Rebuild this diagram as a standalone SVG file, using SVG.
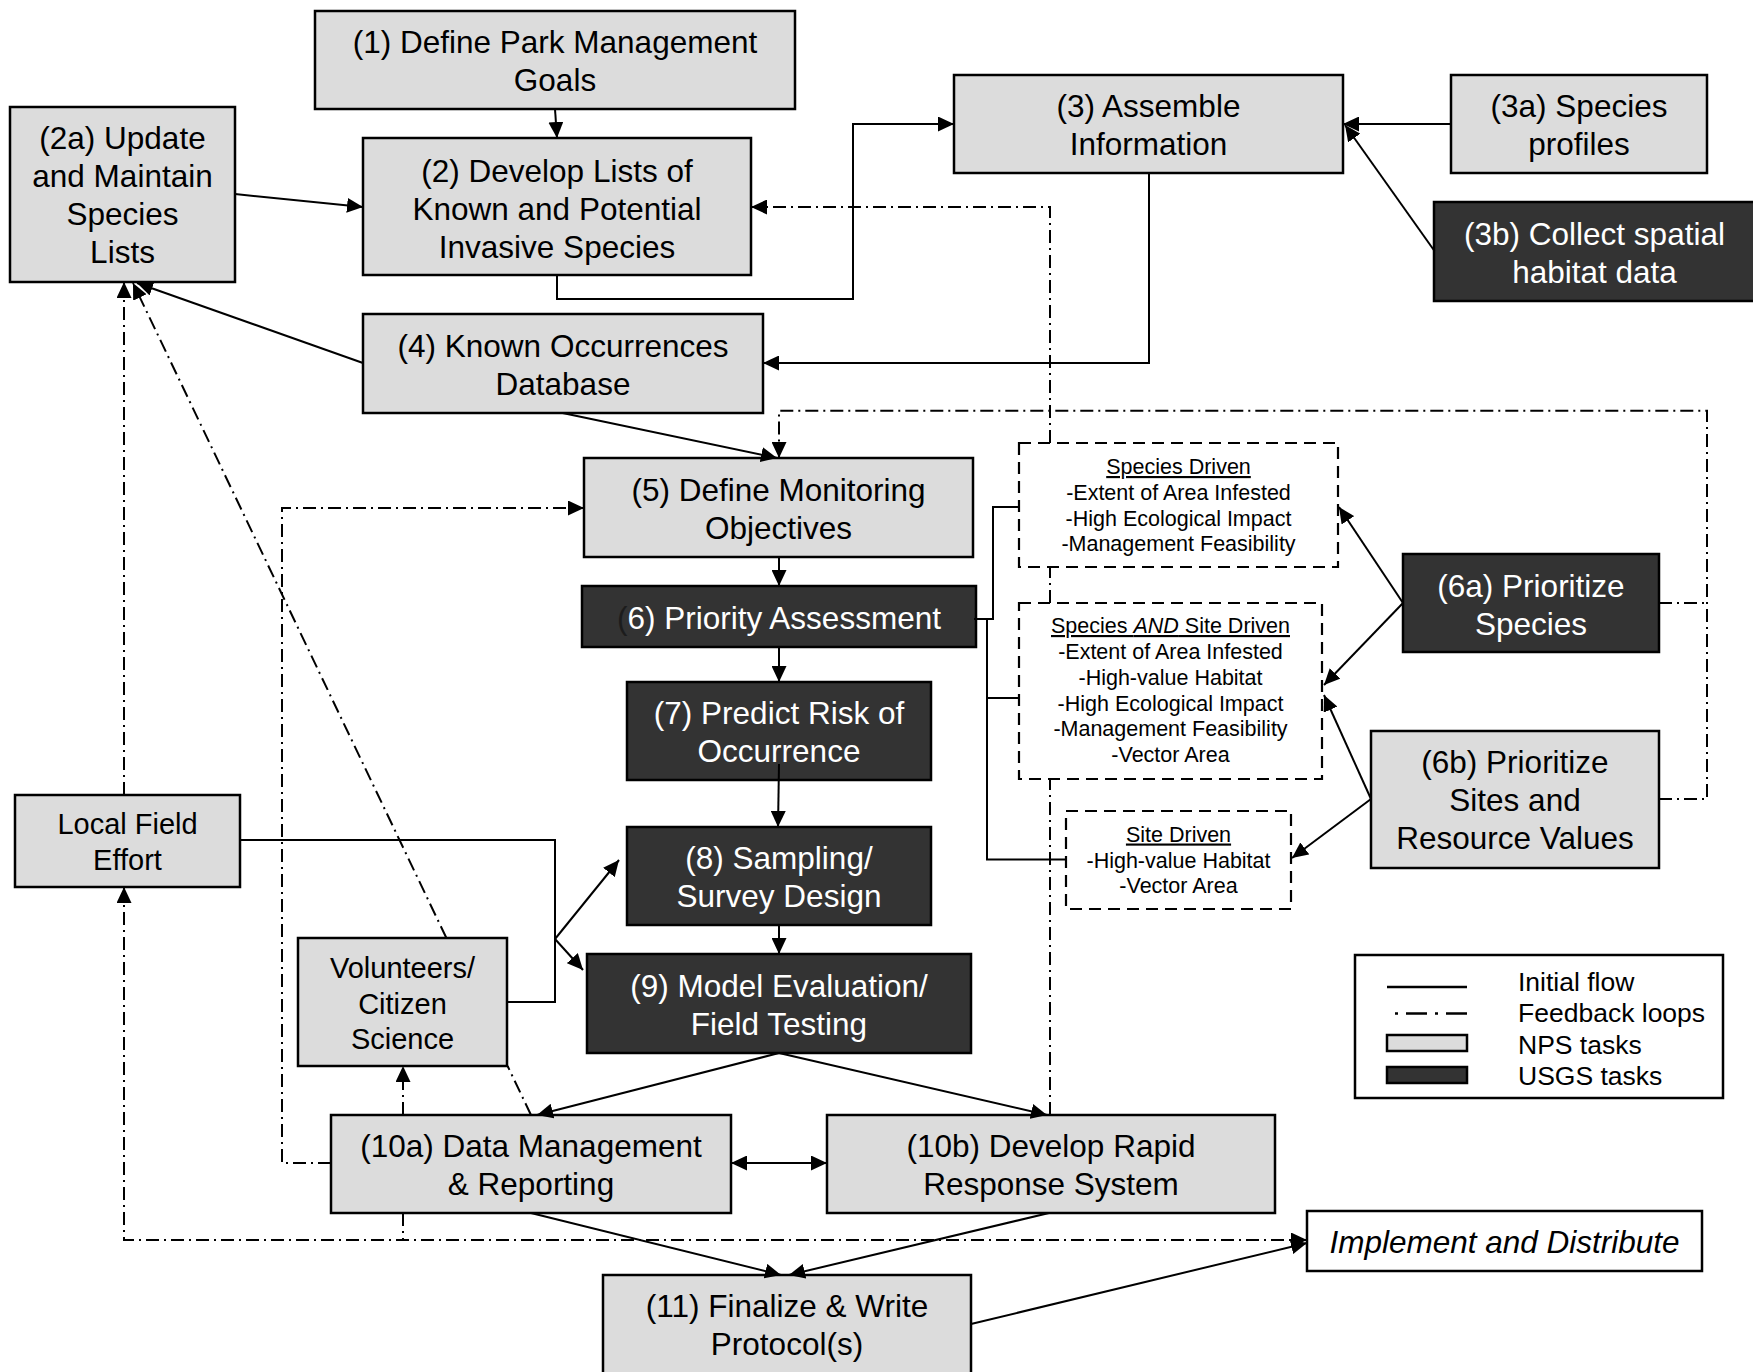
<svg xmlns="http://www.w3.org/2000/svg" width="1753" height="1372" viewBox="0 0 1753 1372">
<style>
text{font-family:"Liberation Sans",Arial,sans-serif;text-anchor:middle}
.n rect{stroke:#000;stroke-width:2.5}
.l rect{fill:#dcdcdc}
.d rect{fill:#333333}
.l text{fill:#000;font-size:31.5px}
.d text{fill:#fff;font-size:31.5px}
.sm text{font-size:29px}
.db rect{fill:#fff;stroke:#000;stroke-width:2.2;stroke-dasharray:12,7}
.db text{font-size:21.5px;fill:#000}
.u{text-decoration:underline}
.c path{fill:none;stroke:#000;stroke-width:2}
.c .f{stroke-dasharray:13,5,2,5}
.lg text{font-size:26.5px;text-anchor:start}
</style>
<defs>
<marker id="a" markerUnits="userSpaceOnUse" markerWidth="16" markerHeight="15" viewBox="0 0 16 15" refX="16" refY="7.5" orient="auto-start-reverse">
<path d="M0,0 L16,7.5 L0,15 z" fill="#000"/>
</marker>
</defs>
<rect width="1753" height="1372" fill="#fff"/>

<g id="n1" class="n l"><rect x="315" y="11" width="480" height="98"/><text x="555" y="53">(1) Define Park Management</text><text x="555" y="91">Goals</text></g>
<g id="n2a" class="n l"><rect x="10" y="107" width="225" height="175"/><text x="122.5" y="149">(2a) Update</text><text x="122.5" y="187">and Maintain</text><text x="122.5" y="225">Species</text><text x="122.5" y="263">Lists</text></g>
<g id="n2" class="n l"><rect x="363" y="138" width="388" height="137"/><text x="557" y="181.5">(2) Develop Lists of</text><text x="557" y="219.5">Known and Potential</text><text x="557" y="257.5">Invasive Species</text></g>
<g id="n3" class="n l"><rect x="954" y="75" width="389" height="98"/><text x="1148.5" y="117">(3) Assemble</text><text x="1148.5" y="155">Information</text></g>
<g id="n3a" class="n l"><rect x="1451" y="75" width="256" height="98"/><text x="1579" y="117">(3a) Species</text><text x="1579" y="155">profiles</text></g>
<g id="n3b" class="n d"><rect x="1434" y="202" width="321" height="99"/><text x="1594.5" y="244.5">(3b) Collect spatial</text><text x="1594.5" y="282.5">habitat data</text></g>
<g id="n4" class="n l"><rect x="363" y="314" width="400" height="99"/><text x="563" y="356.5">(4) Known Occurrences</text><text x="563" y="394.5">Database</text></g>
<g id="n5" class="n l"><rect x="584" y="458" width="389" height="99"/><text x="778.5" y="501">(5) Define Monitoring</text><text x="778.5" y="539">Objectives</text></g>
<g id="n6" class="n d"><rect x="582" y="586" width="394" height="61"/><text x="779" y="628.5"><tspan fill="#1c1c1c">(</tspan>6) Priority Assessment</text></g>
<g id="n7" class="n d"><rect x="627" y="682" width="304" height="98"/><text x="779" y="724">(7) Predict Risk of</text><text x="779" y="762">Occurrence</text></g>
<g id="n8" class="n d"><rect x="627" y="827" width="304" height="98"/><text x="779" y="869">(8) Sampling/</text><text x="779" y="907">Survey Design</text></g>
<g id="n9" class="n d"><rect x="587" y="954" width="384" height="99"/><text x="779" y="996.5">(9) Model Evaluation/</text><text x="779" y="1034.5">Field Testing</text></g>
<g id="n10a" class="n l"><rect x="331" y="1115" width="400" height="98"/><text x="531" y="1157">(10a) Data Management</text><text x="531" y="1195">&amp; Reporting</text></g>
<g id="n10b" class="n l"><rect x="827" y="1115" width="448" height="98"/><text x="1051" y="1157">(10b) Develop Rapid</text><text x="1051" y="1195">Response System</text></g>
<g id="n11" class="n l"><rect x="603" y="1275" width="368" height="110"/><text x="787" y="1317">(11) Finalize &amp; Write</text><text x="787" y="1355">Protocol(s)</text></g>
<g id="n6a" class="n d"><rect x="1403" y="554" width="256" height="98"/><text x="1531" y="597">(6a) Prioritize</text><text x="1531" y="635">Species</text></g>
<g id="n6b" class="n l"><rect x="1371" y="731" width="288" height="137"/><text x="1515" y="773">(6b) Prioritize</text><text x="1515" y="811">Sites and</text><text x="1515" y="849">Resource Values</text></g>
<g id="nLFE" class="n l sm"><rect x="15" y="795" width="225" height="92"/><text x="127.5" y="834">Local Field</text><text x="127.5" y="870">Effort</text></g>
<g id="nVol" class="n l sm"><rect x="298" y="938" width="209" height="128"/><text x="402.5" y="977.5">Volunteers/</text><text x="402.5" y="1013.5">Citizen</text><text x="402.5" y="1049">Science</text></g>
<g id="nImpl" class="n"><rect x="1307" y="1211" width="395" height="60" fill="#fff"/><text x="1504.5" y="1253" font-size="31.5" font-style="italic">Implement and Distribute</text></g>

<g id="nSpecies" class="db"><rect x="1019" y="443" width="319" height="124"/><text x="1178.5" y="474" class="u">Species Driven</text><text x="1178.5" y="500">-Extent of Area Infested</text><text x="1178.5" y="525.5">-High Ecological Impact</text><text x="1178.5" y="551">-Management Feasibility</text></g>
<g id="nBoth" class="db"><rect x="1019" y="603" width="303" height="176"/><text x="1170.5" y="633" class="u">Species <tspan font-style="italic">AND</tspan> Site Driven</text><text x="1170.5" y="659">-Extent of Area Infested</text><text x="1170.5" y="684.5">-High-value Habitat</text><text x="1170.5" y="710.5">-High Ecological Impact</text><text x="1170.5" y="736">-Management Feasibility</text><text x="1170.5" y="762">-Vector Area</text></g>
<g id="nSite" class="db"><rect x="1066" y="811" width="225" height="98"/><text x="1178.5" y="841.5" class="u">Site Driven</text><text x="1178.5" y="867.5">-High-value Habitat</text><text x="1178.5" y="893">-Vector Area</text></g>

<g id="legend" class="lg">
<rect x="1355" y="955" width="368" height="143" fill="#fff" stroke="#000" stroke-width="2.5"/>
<path d="M1387,987 H1467" stroke="#000" stroke-width="2.5"/>
<path d="M1395,1013.5 H1398 M1406,1013.5 H1427 M1435,1013.5 H1438 M1446,1013.5 H1467" stroke="#000" stroke-width="2.5"/>
<rect x="1387" y="1035" width="80" height="16" fill="#dcdcdc" stroke="#000" stroke-width="2.5"/>
<rect x="1387" y="1067" width="80" height="16" fill="#333333" stroke="#000" stroke-width="2.5"/>
<text x="1518" y="990.5">Initial flow</text>
<text x="1518" y="1021.5">Feedback loops</text>
<text x="1518" y="1053.5">NPS tasks</text>
<text x="1518" y="1085">USGS tasks</text>
</g>

<g id="connectors" class="c">
<path d="M555,109 L557,138" marker-end="url(#a)"/>
<path d="M235,194 L363,207" marker-end="url(#a)"/>
<path d="M557,275 V299 H853 V124 H954" marker-end="url(#a)"/>
<path d="M1451,124 H1343" marker-end="url(#a)"/>
<path d="M1434.5,251 L1345,125" marker-end="url(#a)"/>
<path d="M1149,173 V363 H763" marker-end="url(#a)"/>
<path d="M363,363 L137,283" marker-end="url(#a)"/>
<path d="M562.6,413 L777,458" marker-end="url(#a)"/>
<path d="M779,557 V586" marker-end="url(#a)"/>
<path d="M779,647 V682" marker-end="url(#a)"/>
<path d="M779,764 L778,827" marker-end="url(#a)"/>
<path d="M779,925 V954" marker-end="url(#a)"/>
<path d="M240,840 H555 V1002 H507"/>
<path d="M555,939 L619,860" marker-end="url(#a)"/>
<path d="M555,939 L583,970" marker-end="url(#a)"/>
<path d="M974,619 H993 V507 H1019"/>
<path d="M987,619 V859.5 H1066"/>
<path d="M987,698 H1019"/>
<path d="M1403,603 L1339,507" marker-end="url(#a)"/>
<path d="M1403,603 L1324,685" marker-end="url(#a)"/>
<path d="M1371,799 L1324,695" marker-end="url(#a)"/>
<path d="M1371,799 L1292,858" marker-end="url(#a)"/>
<path d="M779,1053 L537,1115" marker-end="url(#a)"/>
<path d="M779,1053 L1047,1115" marker-end="url(#a)"/>
<path d="M731,1163 H827" marker-start="url(#a)" marker-end="url(#a)"/>
<path d="M531,1213 L781,1275" marker-end="url(#a)"/>
<path d="M1049,1213 L789,1275" marker-end="url(#a)"/>
<path d="M971,1324 L1307,1243" marker-end="url(#a)"/>

<path class="f" d="M1050,1115 V779"/>
<path class="f" d="M1050,603 V567"/>
<path class="f" d="M1050,443 V207 H751" marker-end="url(#a)"/>
<path class="f" d="M1659,603 H1707"/>
<path class="f" d="M1659,799 H1707 V410.7 H779 V458" marker-end="url(#a)"/>
<path class="f" d="M331,1163 H282 V508 H584" marker-end="url(#a)"/>
<path class="f" d="M124,795 V282" marker-end="url(#a)"/>
<path class="f" d="M531,1115 L507.6,1066"/>
<path class="f" d="M446.4,938 L133,283" marker-end="url(#a)"/>
<path class="f" d="M403,1115 V1066" marker-end="url(#a)"/>
<path class="f" d="M403,1213 V1240"/>
<path class="f" d="M124,887 V1240 H1307" marker-start="url(#a)" marker-end="url(#a)"/>
</g>
</svg>
